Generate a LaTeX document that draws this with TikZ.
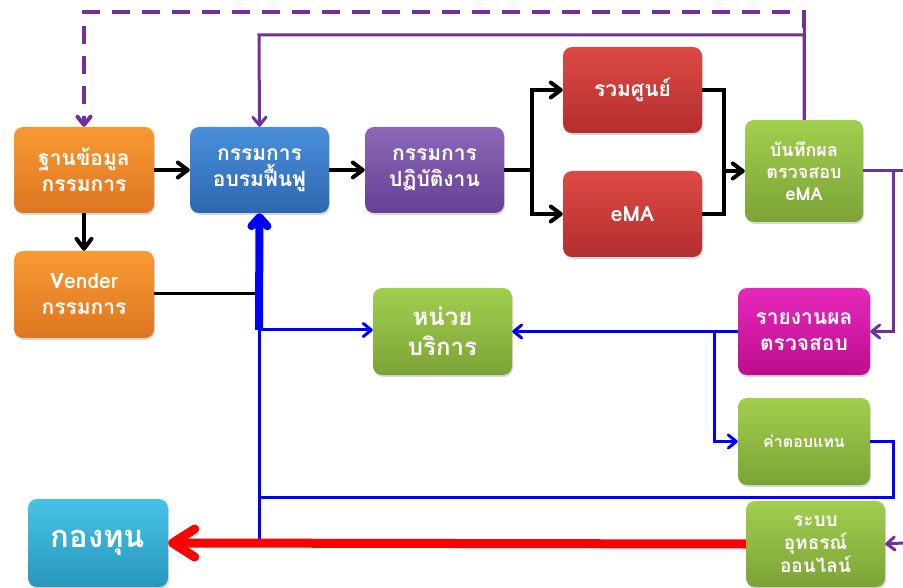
\documentclass[tikz,border=0pt]{standalone}
\usepackage{fontspec}
\newfontfamily\thai[Script=Thai]{Loma}
\usetikzlibrary{arrows.meta,shadows}

\definecolor{orA}{HTML}{F89A33}\definecolor{orB}{HTML}{DD7622}
\definecolor{blA}{HTML}{4A8FDB}\definecolor{blB}{HTML}{2D67AE}
\definecolor{puA}{HTML}{8C68B8}\definecolor{puB}{HTML}{664092}
\definecolor{reA}{HTML}{DE4A45}\definecolor{reB}{HTML}{B22E2E}
\definecolor{grA}{HTML}{A2CE4E}\definecolor{grB}{HTML}{7BA336}
\definecolor{mgA}{HTML}{E528BC}\definecolor{mgB}{HTML}{BD0D8C}
\definecolor{cyA}{HTML}{45C4E6}\definecolor{cyB}{HTML}{2896BC}
\definecolor{lnPurple}{HTML}{7030A0}
\definecolor{lnBlue}{HTML}{0000FF}
\definecolor{lnRed}{HTML}{FF0000}

\tikzset{
  box/.style={rounded corners=9pt, text=white, align=center,
    font=\thai\bfseries\fontsize{21}{26}\selectfont,
    drop shadow={opacity=0.3, shadow xshift=1pt, shadow yshift=-2pt}},
  orangebox/.style={box, top color=orA, bottom color=orB},
  bluebox/.style={box, top color=blA, bottom color=blB},
  purplebox/.style={box, top color=puA, bottom color=puB},
  redbox/.style={box, top color=reA, bottom color=reB},
  greenbox/.style={box, top color=grA, bottom color=grB},
  magentabox/.style={box, top color=mgA, bottom color=mgB},
  cyanbox/.style={box, top color=cyA, bottom color=cyB},
  tip/.style={-{Straight Barb[length=10pt,width=15pt,round]}},
  smalltip/.style={-{Straight Barb[length=8pt,width=13pt,round]}},
  blk/.style={draw=black, line width=4pt},
  pline/.style={draw=lnPurple, line width=3pt},
  bline/.style={draw=lnBlue, line width=3pt},
}

\begin{document}
\begin{tikzpicture}[x=1pt,y=-1pt]
\useasboundingbox (0,0) rectangle (903,588);

% boxes
\node[orangebox, minimum width=140pt, minimum height=86pt] (db) at (84,170) {ฐานข้อมูล\\กรรมการ};
\node[bluebox, minimum width=139pt, minimum height=86pt] (train) at (259.5,170) {กรรมการ\\อบรมฟื้นฟู};
\node[purplebox, minimum width=139pt, minimum height=86pt] (ops) at (434.5,170) {กรรมการ\\ปฏิบัติงาน};
\node[redbox, minimum width=139pt, minimum height=86pt] (central) at (632.5,90) {รวมศูนย์};
\node[redbox, minimum width=139pt, minimum height=86pt] (ema) at (632.5,214) {eMA};
\node[greenbox, minimum width=118pt, minimum height=102pt,
      font=\thai\bfseries\fontsize{18}{22}\selectfont] (rec) at (804,171) {บันทึกผล\\ตรวจสอบ\\eMA};
\node[orangebox, minimum width=140pt, minimum height=87pt] (vender) at (84,294.5) {Vender\\กรรมการ};
\node[greenbox, minimum width=139pt, minimum height=87pt,
      font=\thai\bfseries\fontsize{24}{30}\selectfont] (unit) at (442.5,331.5) {หน่วย\\บริการ};
\node[magentabox, minimum width=132pt, minimum height=87pt] (report) at (804,331.5) {รายงานผล\\ตรวจสอบ};
\node[greenbox, minimum width=132pt, minimum height=87pt,
      font=\thai\bfseries\fontsize{16}{19}\selectfont] (pay) at (804,441.5) {ค่าตอบแทน};
\node[greenbox, minimum width=139pt, minimum height=86pt,
      font=\thai\bfseries\fontsize{19}{23}\selectfont] (appeal) at (815.5,544) {ระบบ\\อุทธรณ์\\ออนไลน์};
\node[cyanbox, minimum width=140pt, minimum height=88pt,
      font=\thai\bfseries\fontsize{31}{34}\selectfont] (fund) at (98,543) {กองทุน};

% junction points
\coordinate (dashTop) at (804,12);
\coordinate (recTop) at (804,28);
\coordinate (solidTop) at (259,35);
\coordinate (recRight) at (893,171);
\coordinate (edgeTop) at (903,171);
\coordinate (edgeLow) at (903,543);
\coordinate (opsSplit) at (532,170);
\coordinate (mergeX) at (724,171);
\coordinate (venderJoin) at (258,294);
\coordinate (unitJoin) at (259,330);
\coordinate (busBottom) at (259,540);
\coordinate (payBranch) at (714,331.5);
\coordinate (payRight) at (893,441.5);
\coordinate (busReturn) at (259,497);

% purple feedback lines
\draw[pline, line width=4pt, dash pattern=on 18pt off 12pt, smalltip] (recTop) -- (dashTop) -| (db.north);
\draw[pline, smalltip] (rec.north) |- (solidTop) -- (train.north);
\draw[pline] (rec.north) -- (recTop);
\draw[pline] (rec.east) -- (edgeTop);
\draw[pline, smalltip] (recRight) |- (report.east);
\draw[pline, smalltip] (edgeLow) -- (appeal.east);

% black flow
\draw[blk, tip] (db.east) -- (train.west);
\draw[blk, tip] (train.east) -- (ops.west);
\draw[blk, tip] (db.south) -- (vender.north);
\draw[blk] (ops.east) -- (opsSplit);
\draw[blk, tip] (opsSplit) |- (central.west);
\draw[blk, tip] (opsSplit) |- (ema.west);
\draw[blk] (central.east) -| (mergeX);
\draw[blk] (ema.east) -| (mergeX);
\draw[blk, tip] (mergeX) -- (rec.west);
\draw[blk, line width=3pt] (vender.east |- venderJoin) -- (venderJoin);

% blue flow
\draw[bline, line width=8pt, -{Straight Barb[length=9pt,width=16pt,round]}] (unitJoin) -- (train.south);
\draw[bline, smalltip] (unitJoin) -- (unit.west |- unitJoin);
\draw[bline] (unitJoin) -- (busBottom);
\draw[bline, smalltip] (report.west) -- (unit.east);
\draw[bline, smalltip] (payBranch) |- (pay.west);
\draw[bline] (pay.east) -| (payRight) |- (busReturn);

% red payout
\draw[draw=lnRed, line width=9pt, -{Straight Barb[length=22pt,width=28pt,round]}] (appeal.west) -- (fund.east);
\end{tikzpicture}
\end{document}
